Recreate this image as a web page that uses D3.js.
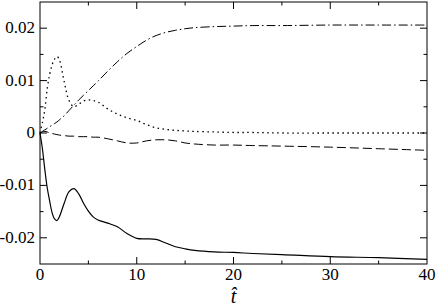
<!DOCTYPE html>
<html>
<head>
<meta charset="utf-8">
<script src="https://d3js.org/d3.v7.min.js"></script>
<style>
body { margin: 0; background: #fff; }
svg { display: block; }
</style>
</head>
<body>
<svg width="436" height="306"></svg>
<script>
// time grid shared by all four curves
var tValues = [0, 0.25, 0.5, 0.75, 1, 1.25, 1.5, 1.75, 2, 2.5, 3, 3.5, 4, 4.5, 5, 5.5, 6, 7, 8, 9,
  10, 11, 12, 13, 14, 15, 16, 18, 20, 22, 25, 30, 35, 40];

var solidValues = [0, -0.003, -0.007, -0.0105, -0.013, -0.0152, -0.0164, -0.0167, -0.016, -0.0134,
  -0.0112, -0.0106, -0.0116, -0.0134, -0.0149, -0.016, -0.0166, -0.0172, -0.0179, -0.0192,
  -0.0201, -0.0202, -0.0203, -0.021, -0.0217, -0.0221, -0.0224, -0.0227, -0.0228, -0.023,
  -0.0232, -0.0236, -0.0238, -0.0241];

var dottedValues = [0, 0.002, 0.0045, 0.0085, 0.0112, 0.013, 0.0141, 0.0146, 0.014, 0.0098,
  0.0062, 0.005, 0.0055, 0.0061, 0.0063, 0.0062, 0.0059, 0.0046, 0.0036, 0.0029,
  0.0024, 0.0016, 0.001, 0.0007, 0.0005, 0.0004, 0.0003, 0.0002, 0.0001, 0.0001,
  0, 0, 0, 0];

var dashDotValues = [0, 0.0003, 0.0006, 0.0009, 0.0012, 0.0015, 0.0018, 0.0021, 0.0025, 0.0033,
  0.0043, 0.0053, 0.0063, 0.0072, 0.0081, 0.009, 0.0099, 0.0118, 0.0136, 0.0152,
  0.0165, 0.0177, 0.0186, 0.0192, 0.0196, 0.0199, 0.0201, 0.0203, 0.0204, 0.0205,
  0.0205, 0.0206, 0.0206, 0.0206];

var dashedValues = [0, 0.0002, 0.0003, 0.0002, 0, -0.0001, -0.0002, -0.0003, -0.0004, -0.0005,
  -0.0006, -0.0006, -0.0007, -0.0007, -0.0007, -0.0008, -0.0008, -0.0011, -0.0015, -0.0019,
  -0.0019, -0.0015, -0.0013, -0.0013, -0.0015, -0.0019, -0.0021, -0.0023, -0.0023, -0.0024,
  -0.0025, -0.0027, -0.003, -0.0033];

var xTicks = [0, 10, 20, 30, 40];
var xMinor = [5, 15, 25, 35];
var yTicks = [0.02, 0.01, 0, -0.01, -0.02];
var yTickLabels = ["0.02", "0.01", "0", "-0.01", "-0.02"];
var yMinor = [0.015, 0.005, -0.005, -0.015];

var serif = "'Liberation Serif', 'Times New Roman', 'DejaVu Serif', serif";

var svg = d3.select("svg");
// plot box (note: "top" is taken by window.top, so use plot* names)
var plotLeft = 40, plotRight = 427, plotTop = 2, plotBottom = 264;

var x = d3.scaleLinear().domain([0, 40]).range([plotLeft, plotRight]);
var y = d3.scaleLinear().domain([-0.025, 0.025]).range([plotBottom, plotTop]);

var series = [
  { values: solidValues, dash: null, width: 1.2 },
  { values: dottedValues, dash: "1.5,3.5", width: 1.3 },
  { values: dashDotValues, dash: "9,3,1.5,3", width: 1 },
  { values: dashedValues, dash: "9,4", width: 1 }
];

var line = d3.line()
  .x(function (d) { return x(d[0]); })
  .y(function (d) { return y(d[1]); })
  .curve(d3.curveCatmullRom);

svg.append("g").selectAll("path")
  .data(series)
  .enter().append("path")
  .attr("d", function (s) { return line(tValues.map(function (t, i) { return [t, s.values[i]]; })); })
  .attr("fill", "none")
  .attr("stroke", "#000")
  .attr("stroke-width", function (s) { return s.width; })
  .attr("stroke-dasharray", function (s) { return s.dash; });

// inward ticks on all four sides
var ticks = svg.append("g").attr("stroke", "#000").attr("stroke-width", 1);
xTicks.slice(1, -1).forEach(function (t) {
  ticks.append("line").attr("x1", x(t)).attr("x2", x(t)).attr("y1", plotBottom).attr("y2", plotBottom - 7);
  ticks.append("line").attr("x1", x(t)).attr("x2", x(t)).attr("y1", plotTop).attr("y2", plotTop + 7);
});
xMinor.forEach(function (t) {
  ticks.append("line").attr("x1", x(t)).attr("x2", x(t)).attr("y1", plotBottom).attr("y2", plotBottom - 3.5);
  ticks.append("line").attr("x1", x(t)).attr("x2", x(t)).attr("y1", plotTop).attr("y2", plotTop + 3.5);
});
yTicks.forEach(function (v) {
  ticks.append("line").attr("x1", plotLeft).attr("x2", plotLeft + 7).attr("y1", y(v)).attr("y2", y(v));
  ticks.append("line").attr("x1", plotRight).attr("x2", plotRight - 7).attr("y1", y(v)).attr("y2", y(v));
});
yMinor.forEach(function (v) {
  ticks.append("line").attr("x1", plotLeft).attr("x2", plotLeft + 3.5).attr("y1", y(v)).attr("y2", y(v));
  ticks.append("line").attr("x1", plotRight).attr("x2", plotRight - 3.5).attr("y1", y(v)).attr("y2", y(v));
});

svg.append("rect")
  .attr("x", plotLeft).attr("y", plotTop)
  .attr("width", plotRight - plotLeft).attr("height", plotBottom - plotTop)
  .attr("fill", "none").attr("stroke", "#000").attr("stroke-width", 1);

svg.append("g").selectAll("text")
  .data(xTicks)
  .enter().append("text")
  .attr("x", function (d) { return x(d); })
  .attr("y", 280)
  .attr("text-anchor", "middle")
  .attr("font-family", serif)
  .attr("font-size", 17)
  .text(function (d) { return d; });

svg.append("g").selectAll("text")
  .data(yTicks)
  .enter().append("text")
  .attr("x", 35)
  .attr("y", function (d) { return y(d) + 5; })
  .attr("text-anchor", "end")
  .attr("font-family", serif)
  .attr("font-size", 17)
  .text(function (d, i) { return yTickLabels[i]; });

svg.append("text")
  .attr("x", x(20))
  .attr("y", 303)
  .attr("text-anchor", "middle")
  .attr("font-family", serif)
  .attr("font-size", 20)
  .attr("font-style", "italic")
  .text("t\u0302");
</script>
</body>
</html>
